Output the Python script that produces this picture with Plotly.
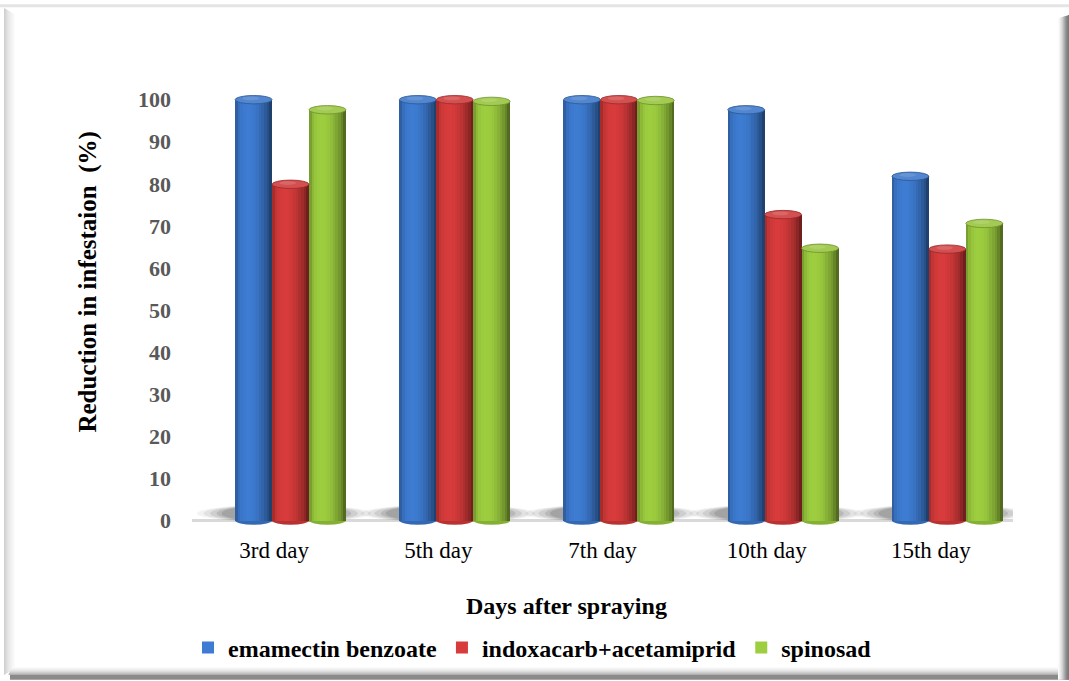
import math
import plotly.graph_objects as go

# ---- data -------------------------------------------------------------
days = ["3rd day", "5th day", "7th day", "10th day", "15th day"]
series_names = ["emamectin benzoate", "indoxacarb+acetamiprid", "spinosad"]
emamectin = [100.0, 100.0, 100.0, 97.6, 81.8]
indoxacarb = [79.9, 100.0, 100.0, 72.7, 64.5]
spinosad = [97.6, 99.6, 99.8, 64.7, 70.6]
y_ticks = [0, 10, 20, 30, 40, 50, 60, 70, 80, 90, 100]

series_values = [emamectin, indoxacarb, spinosad]
base_colors = [(58, 118, 200), (206, 56, 56), (150, 196, 60)]

# ---- geometry (figure pixels) ----------------------------------------
W, H = 1069, 681
ML, MR, MT, MB = 192, 56, 66, 151
PW, PH = W - ML - MR, H - MT - MB
FONT = "Liberation Serif"

bar_w = 0.225          # width of one cylinder in category units
depth_shift = 0.10     # pseudo-3D shift of the bars to the right
cap_h = 1.0            # half height of the elliptic caps (data units)
n_strips = 14          # strips used to shade each cylinder


def px(x):
    return (x - ML) / PW


def py(y):
    return (H - MB - y) / PH


def rgb(c):
    return "rgb(%d,%d,%d)" % tuple(max(0, min(255, int(round(v)))) for v in c)


def shade(c, t):
    """Cylinder lighting for lateral position t in [-1, 1]."""
    s = max(0.0, math.cos((t + 0.3) * math.pi / 2 / 1.3))
    f = (0.58 + 0.47 * s) * (1 - 0.22 * abs(t) ** 8)
    return tuple(v * f for v in c)


def lighten(c, a):
    return tuple(v + (255 - v) * a for v in c)


fig = go.Figure()
shapes = []

# soft floor shadows under each group of cylinders
for i in range(len(days)):
    cx = i + depth_shift
    for spread, op in [(1.00, 0.07), (0.92, 0.10), (0.84, 0.13), (0.76, 0.17), (0.70, 0.2)]:
        shapes.append(dict(type="circle", xref="x", yref="y", layer="between",
                           x0=cx - spread / 2 - 0.07, x1=cx + spread / 2 - 0.01,
                           y0=-0.4, y1=3.8, fillcolor="rgb(80,80,80)", opacity=op,
                           line=dict(width=0)))

for j, (name, vals, col) in enumerate(zip(series_names, series_values, base_colors)):
    xs = [i + depth_shift + (j - 1) * bar_w for i in range(len(days))]

    # cylinder body (also provides the legend entry)
    fig.add_trace(go.Bar(
        x=xs, y=vals, width=bar_w, name=name,
        marker=dict(color=rgb(shade(col, -0.3)), line=dict(width=0)),
        showlegend=True, legendgroup=name, hoverinfo="skip",
    ))
    # shading strips across the cylinder
    sw = bar_w / n_strips
    for k in range(n_strips):
        t = -1 + (2 * k + 1) / n_strips
        fig.add_trace(go.Bar(
            x=[x - bar_w / 2 + sw * (k + 0.5) for x in xs], y=vals, width=sw * 1.04,
            marker=dict(color=rgb(shade(col, t)), line=dict(width=0)),
            showlegend=False, legendgroup=name, hoverinfo="skip",
        ))

    for x, v in zip(xs, vals):
        # rounded bottom of the cylinder
        shapes.append(dict(type="circle", xref="x", yref="y", layer="between",
                           x0=x - bar_w / 2, x1=x + bar_w / 2, y0=-cap_h, y1=cap_h,
                           fillcolor=rgb(shade(col, 0.4)), line=dict(width=0)))
        # top cap
        shapes.append(dict(type="circle", xref="x", yref="y", layer="above",
                           x0=x - bar_w / 2, x1=x + bar_w / 2, y0=v - cap_h, y1=v + cap_h,
                           fillcolor=rgb(lighten(col, 0.12)),
                           line=dict(width=0.8, color=rgb(shade(col, 0.7)))))
        shapes.append(dict(type="circle", xref="x", yref="y", layer="above",
                           x0=x - bar_w * 0.3, x1=x + bar_w * 0.15,
                           y0=v - cap_h * 0.15, y1=v + cap_h * 0.75,
                           fillcolor=rgb(lighten(col, 0.3)), opacity=0.6, line=dict(width=0)))


# ---- bevelled frame around the chart ---------------------------------
def band(x0, x1, y0, y1, c):
    shapes.append(dict(type="rect", xref="paper", yref="paper", layer="above",
                       x0=px(x0), x1=px(x1), y0=py(y1), y1=py(y0),
                       fillcolor=c, line=dict(width=0)))


band(0, W, 4, 7, "#e4e4e4")
for k, c in enumerate(["#cfcfcf", "#d6d6d6", "#dcdcdc", "#e2e2e2", "#e7e7e7", "#ebebeb",
                       "#efefef", "#f2f2f2", "#f5f5f5", "#f8f8f8", "#fbfbfb"]):
    band(4 + k, 5 + k, 8 + k * 0.6, 676 - k * 0.6, c)
for k, c in enumerate(["#fbfbfb", "#f5f5f5", "#eeeeee", "#e4e4e4", "#d8d8d8",
                       "#c9c9c9", "#b8b8b8", "#a6a6a6"]):
    band(12 - k * 0.5, W, 668 + k, 669 + k, c)
band(10, W, 676, H, "#8a8a8a")
for k, c in enumerate(["#fbfbfb", "#f3f3f3", "#e9e9e9", "#dddddd", "#cfcfcf",
                       "#bdbdbd", "#ababab", "#999999", "#8a8a8a", "#808080", "#7a7a7a"]):
    band(1058 + k, 1059 + k, 15 + (10 - k) * 0.3, H, c)

fig.update_layout(
    width=W, height=H,
    margin=dict(l=ML, r=MR, t=MT, b=MB, pad=0),
    paper_bgcolor="white", plot_bgcolor="white",
    barmode="overlay", bargap=0,
    shapes=shapes,
    showlegend=True,
    legend=dict(orientation="h", x=px(188), y=py(648), xanchor="left", yanchor="middle",
                font=dict(family=FONT, size=24, color="black", weight="bold"),
                itemwidth=30, traceorder="normal", bgcolor="rgba(0,0,0,0)"),
    xaxis=dict(range=[-0.5, len(days) - 0.5], tickmode="array",
               tickvals=list(range(len(days))), ticktext=days,
               showgrid=False, zeroline=False, showline=False, ticks="",
               ticklabelstandoff=5,
               tickfont=dict(family=FONT, size=23, color="black")),
    yaxis=dict(range=[-2, 108], tickmode="array", tickvals=y_ticks,
               showgrid=False, zeroline=True, zerolinecolor="#d9d9d9", zerolinewidth=3,
               showline=False, ticks="", ticklabelstandoff=20,
               tickfont=dict(family=FONT, size=22, color="#595959", weight="bold")),
    annotations=[
        dict(text="Days after spraying", xref="paper", yref="paper",
             x=px(566), y=py(607), xanchor="center", yanchor="middle", showarrow=False,
             font=dict(family=FONT, size=24, color="black", weight="bold")),
        dict(text="Reduction in infestaion  (%)", xref="paper", yref="paper",
             x=px(88), y=py(283), xanchor="center", yanchor="middle", showarrow=False,
             textangle=-90,
             font=dict(family=FONT, size=25, color="black", weight="bold")),
    ],
)

fig.write_html("out.html")
